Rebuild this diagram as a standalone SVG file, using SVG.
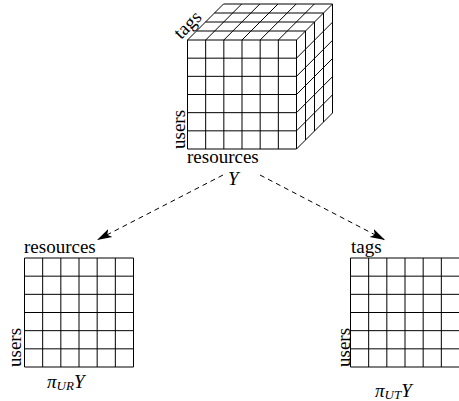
<svg xmlns="http://www.w3.org/2000/svg" width="459" height="401" viewBox="0 0 459 401">
<style>
.g{fill:none;stroke:#000;stroke-width:1}
.t{font-family:"Liberation Serif","Times New Roman",Times,"DejaVu Serif",serif;font-size:19px;fill:#000}
.i{font-style:italic}
.sub{font-size:13px}
.c{fill:none;stroke:#000;stroke-width:1;stroke-dasharray:5,4}
</style>
<defs>
<marker id="ah" markerUnits="userSpaceOnUse" markerWidth="16" markerHeight="10" refX="15" refY="5" orient="auto">
<path d="M0,0.5 L15,5 L0,9.5 L3.5,5 z" fill="#000"/>
</marker>
</defs>
<rect width="459" height="401" fill="#fff"/>
<g id="cube">
<path class="g" d="M187.5,40H296.5V149H187.5Z M205.67,40V149 M223.83,40V149 M242,40V149 M260.17,40V149 M278.33,40V149 M187.5,58.17H296.5 M187.5,76.33H296.5 M187.5,94.5H296.5 M187.5,112.67H296.5 M187.5,130.83H296.5"/>
<path class="g" d="M187.5,40L223.5,4 M205.67,40L241.67,4 M223.83,40L259.83,4 M242,40L278,4 M260.17,40L296.17,4 M278.33,40L314.33,4 M296.5,40L332.5,4 M196.5,31H305.5 M205.5,22H314.5 M214.5,13H323.5 M223.5,4H332.5"/>
<path class="g" d="M296.5,58.17L332.5,22.17 M296.5,76.33L332.5,40.33 M296.5,94.5L332.5,58.5 M296.5,112.67L332.5,76.67 M296.5,130.83L332.5,94.83 M296.5,149L332.5,113 M305.5,31V140 M314.5,22V131 M323.5,13V122 M332.5,4V113"/>
<text class="t" transform="translate(181,40) rotate(-45)">tags</text>
<text class="t" transform="translate(184.5,149) rotate(-90)">users</text>
<text class="t" x="187" y="163">resources</text>
<text class="t i" x="228" y="185">Y</text>
</g>
<g id="matrix-ur">
<path class="g" d="M24.5,258H133.5V367H24.5Z M42.67,258V367 M60.83,258V367 M79,258V367 M97.17,258V367 M115.33,258V367 M24.5,276.17H133.5 M24.5,294.33H133.5 M24.5,312.5H133.5 M24.5,330.67H133.5 M24.5,348.83H133.5"/>
<text class="t" x="24" y="253">resources</text>
<text class="t" transform="translate(20.5,367) rotate(-90)">users</text>
<text class="t i" x="47" y="388">π<tspan class="sub" dy="2">UR</tspan><tspan dy="-2">Y</tspan></text>
</g>
<g id="matrix-ut">
<path class="g" d="M350.5,258H459.5V367H350.5Z M368.67,258V367 M386.83,258V367 M405,258V367 M423.17,258V367 M441.33,258V367 M350.5,276.17H459.5 M350.5,294.33H459.5 M350.5,312.5H459.5 M350.5,330.67H459.5 M350.5,348.83H459.5"/>
<text class="t" x="351" y="253">tags</text>
<text class="t" transform="translate(349.5,367) rotate(-90)">users</text>
<text class="t i" x="375" y="396.5">π<tspan class="sub" dy="2">UT</tspan><tspan dy="-2">Y</tspan></text>
</g>
<g id="connectors">
<path class="c" d="M223,175L97,240" marker-end="url(#ah)"/>
<path class="c" d="M260,175L385,240" marker-end="url(#ah)"/>
</g>
</svg>
